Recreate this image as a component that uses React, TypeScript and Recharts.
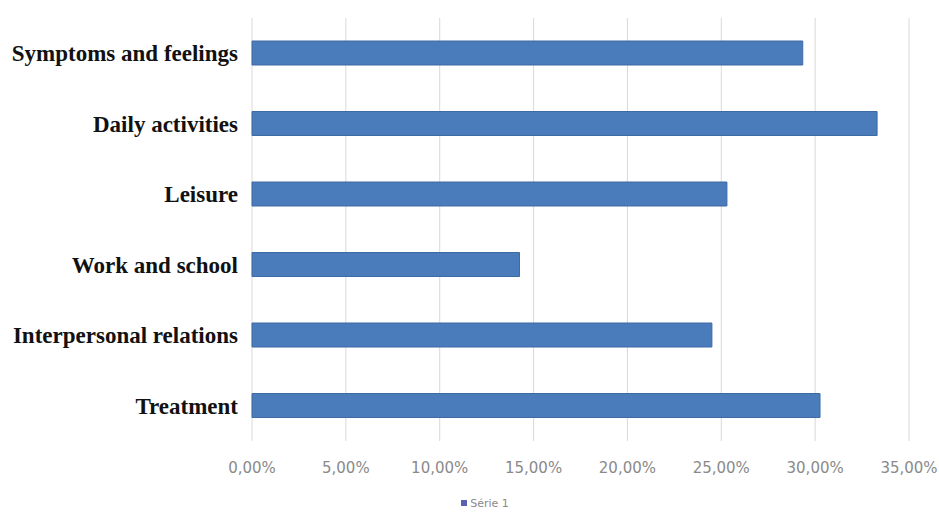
import { BarChart, Bar, XAxis, YAxis, CartesianGrid, Legend } from 'recharts'

const categories = [
  'Symptoms and feelings',
  'Daily activities',
  'Leisure',
  'Work and school',
  'Interpersonal relations',
  'Treatment',
]
const serie1 = [0.2934, 0.333, 0.253, 0.1425, 0.245, 0.3026]
const xTicks = [0, 0.05, 0.1, 0.15, 0.2, 0.25, 0.3, 0.35]

const data = categories.map((name, i) => ({ name, value: serie1[i] }))

const BAR_BLUE = '#4a7bbb'

function fmtPct(v: number) {
  return (v * 100).toFixed(2).replace('.', ',') + '%'
}

const LegendContent = () => (
  <div
    style={{
      display: 'flex',
      justifyContent: 'center',
      alignItems: 'center',
      paddingLeft: 61,
      paddingTop: 14,
      height: 16,
    }}
  >
    <span style={{ width: 6, height: 6, background: '#5a62b0', marginRight: 3, display: 'inline-block' }} />
    <span style={{ fontFamily: 'DejaVu Sans', fontSize: 11, color: '#8a8a8a' }}>Série 1</span>
  </div>
)

export default function App() {
  return (
    <div style={{ position: 'absolute', left: 0, top: 0, width: 939, height: 519, background: '#fff' }}>
      <BarChart
        width={939}
        height={519}
        data={data}
        layout="vertical"
        margin={{ top: 18, right: 30, left: 0, bottom: 8 }}
      >
        <CartesianGrid horizontal={false} stroke="#d9d9d9" />
        <XAxis
          type="number"
          domain={[0, 0.35]}
          ticks={xTicks}
          tickFormatter={fmtPct}
          axisLine={false}
          tickLine={false}
          tickSize={0}
          tickMargin={21}
          height={40}
          tick={{ fill: '#8a8a8a', fontSize: 15, fontFamily: 'DejaVu Sans' }}
        />
        <YAxis
          type="category"
          dataKey="name"
          width={252}
          axisLine={false}
          tickLine={false}
          tickSize={0}
          tickMargin={14}
          tick={{ fill: '#111', fontSize: 23, fontWeight: 'bold', fontFamily: 'Liberation Serif' }}
        />
        <Legend verticalAlign="bottom" height={30} content={<LegendContent />} />
        <Bar dataKey="value" barSize={24} fill={BAR_BLUE} stroke="#3e6aa4" strokeWidth={1} isAnimationActive={false} />
      </BarChart>
    </div>
  )
}
